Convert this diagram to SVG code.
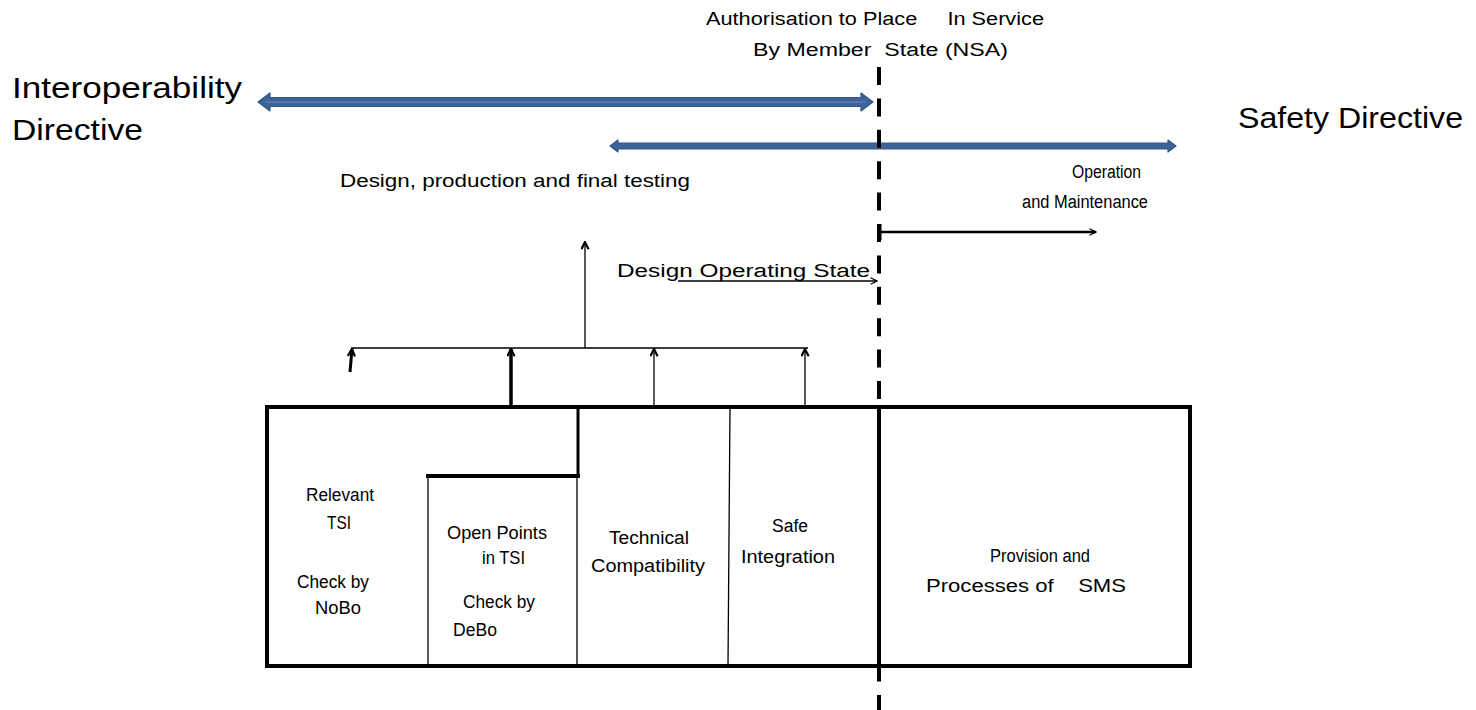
<svg xmlns="http://www.w3.org/2000/svg" width="1476" height="710" viewBox="0 0 1476 710">
  <style>
    text { font-family: "Liberation Sans", Arial, sans-serif; fill: #000; white-space: pre; }
    .title { font-size: 30px; }
    .top { font-size: 18px; }
    .cell { font-size: 18px; }
    .sms { font-size: 18px; }
    .thin { stroke: #000; fill: none; stroke-width: 1.3; }
    .bold { stroke: #000; fill: none; stroke-width: 3; }
    .frame { stroke: #000; fill: none; stroke-width: 4; }
    .band { fill: #3D6398; stroke: #35588A; stroke-width: 1.2; stroke-linejoin: round; }
    .band-hi { stroke: #6A8FC4; stroke-width: 1.2; fill: none; }
  </style>
  <defs>
    <marker id="open" viewBox="0 0 10 10" refX="9" refY="5" markerWidth="8" markerHeight="8" markerUnits="userSpaceOnUse" orient="auto">
      <path d="M1,1 L9,5 L1,9" fill="none" stroke="#000" stroke-width="1.6"/>
    </marker>
    <marker id="open-bold" viewBox="0 0 10 10" refX="9" refY="5" markerWidth="9" markerHeight="9" markerUnits="userSpaceOnUse" orient="auto">
      <path d="M1,1 L9,5 L1,9" fill="none" stroke="#000" stroke-width="2.4"/>
    </marker>
  </defs>

  <!-- directive labels -->
  <g id="interoperability-directive">
    <text class="title" x="12" y="98" textLength="230" lengthAdjust="spacingAndGlyphs">Interoperability</text>
    <text class="title" x="12" y="140" textLength="131" lengthAdjust="spacingAndGlyphs">Directive</text>
  </g>
  <g id="safety-directive">
    <text class="title" x="1238" y="128" textLength="225" lengthAdjust="spacingAndGlyphs">Safety Directive</text>
  </g>

  <!-- scope bands -->
  <g id="interoperability-band">
    <path class="band" d="M258,102 L270,93 L270,97.5 L861,97.5 L861,93 L873,102 L861,111 L861,106.5 L270,106.5 L270,111 Z"/>
    <line class="band-hi" x1="266" y1="102" x2="865" y2="102"/>
  </g>
  <g id="safety-band">
    <path class="band" d="M610,146 L618,140 L618,143 L1168,143 L1168,140 L1176,146 L1168,152 L1168,149 L618,149 L618,152 Z"/>
  </g>

  <!-- phase labels -->
  <g id="authorisation">
    <text class="top" x="706" y="25" textLength="338" lengthAdjust="spacingAndGlyphs">Authorisation to Place     In Service</text>
    <text class="top" x="753" y="56" textLength="255" lengthAdjust="spacingAndGlyphs">By Member  State (NSA)</text>
  </g>
  <g id="design-phase">
    <text class="top" x="340" y="187" textLength="350" lengthAdjust="spacingAndGlyphs">Design, production and final testing</text>
  </g>
  <g id="operation-phase">
    <text class="top" x="1072" y="178" textLength="69" lengthAdjust="spacingAndGlyphs">Operation</text>
    <text class="top" x="1022" y="208" textLength="126" lengthAdjust="spacingAndGlyphs">and Maintenance</text>
  </g>
  <g id="design-operating-state">
    <text class="top" x="617" y="277" textLength="253" lengthAdjust="spacingAndGlyphs">Design Operating State</text>
  </g>

  <!-- requirement blocks -->
  <g id="blocks">
    <rect class="frame" x="267" y="407" width="923" height="259"/>
    <line class="thin" x1="428" y1="476" x2="428" y2="666" stroke-width="1.5"/>
    <line class="frame" x1="426" y1="476" x2="580" y2="476"/>
    <line class="bold" x1="578" y1="407" x2="578" y2="476"/>
    <line class="thin" x1="577" y1="476" x2="577" y2="666" stroke-width="2"/>
    <line class="thin" x1="730" y1="407" x2="728" y2="666" stroke-width="2"/>
    <line class="frame" x1="879" y1="407" x2="879" y2="666"/>
  </g>
  <g id="relevant-tsi">
    <text class="cell" x="306" y="501" textLength="68" lengthAdjust="spacingAndGlyphs">Relevant</text>
    <text class="cell" x="327" y="529" textLength="24" lengthAdjust="spacingAndGlyphs">TSI</text>
    <text class="cell" x="297" y="588" textLength="72" lengthAdjust="spacingAndGlyphs">Check by</text>
    <text class="cell" x="315" y="614" textLength="46" lengthAdjust="spacingAndGlyphs">NoBo</text>
  </g>
  <g id="open-points">
    <text class="cell" x="447" y="539" textLength="100" lengthAdjust="spacingAndGlyphs">Open Points</text>
    <text class="cell" x="482" y="564" textLength="43" lengthAdjust="spacingAndGlyphs">in TSI</text>
    <text class="cell" x="463" y="608" textLength="72" lengthAdjust="spacingAndGlyphs">Check by</text>
    <text class="cell" x="453" y="636" textLength="44" lengthAdjust="spacingAndGlyphs">DeBo</text>
  </g>
  <g id="technical-compatibility">
    <text class="cell" x="609" y="544" textLength="80" lengthAdjust="spacingAndGlyphs">Technical</text>
    <text class="cell" x="591" y="572" textLength="114" lengthAdjust="spacingAndGlyphs">Compatibility</text>
  </g>
  <g id="safe-integration">
    <text class="cell" x="772" y="532" textLength="36" lengthAdjust="spacingAndGlyphs">Safe</text>
    <text class="cell" x="741" y="563" textLength="94" lengthAdjust="spacingAndGlyphs">Integration</text>
  </g>
  <g id="sms">
    <text class="sms" x="990" y="562" textLength="100" lengthAdjust="spacingAndGlyphs">Provision and</text>
    <text class="sms" x="926" y="592" textLength="200" lengthAdjust="spacingAndGlyphs">Processes of    SMS</text>
  </g>

  <!-- connectors -->
  <g id="connectors">
    <line x1="879" y1="67" x2="879" y2="710" stroke="#000" stroke-width="4" stroke-dasharray="18 13.4"/>
    <line class="thin" x1="351" y1="348" x2="808" y2="348" stroke-width="1.2"/>
    <line class="thin" x1="585" y1="348" x2="585" y2="242" marker-end="url(#open-bold)"/>
    <line class="bold" x1="350" y1="372" x2="352" y2="349" marker-end="url(#open-bold)"/>
    <line x1="511" y1="407" x2="511" y2="349" stroke="#000" stroke-width="3.5" marker-end="url(#open-bold)"/>
    <line class="thin" x1="654" y1="407" x2="654" y2="349" stroke-width="1.3" marker-end="url(#open-bold)"/>
    <line class="thin" x1="805" y1="407" x2="805" y2="349" stroke-width="1" marker-end="url(#open-bold)"/>
    <line class="thin" x1="678" y1="281" x2="877" y2="281" stroke-width="1.3" stroke="#333" marker-end="url(#open)"/>
    <line x1="880" y1="224" x2="880" y2="240" stroke="#000" stroke-width="3"/>
    <line x1="880" y1="232" x2="1096" y2="232" stroke="#000" stroke-width="2.5" marker-end="url(#open)"/>
  </g>
</svg>
